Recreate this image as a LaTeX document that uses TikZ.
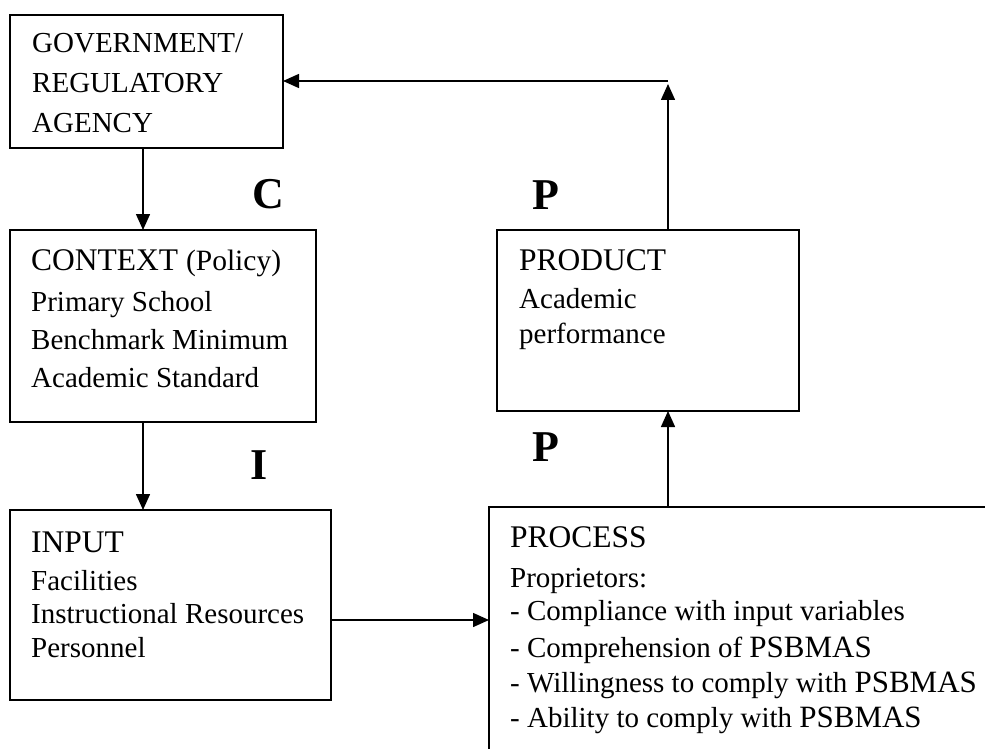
\documentclass[tikz,border=0pt]{standalone}
\usepackage{fontspec}
\setmainfont{Liberation Serif}
\usetikzlibrary{arrows.meta}
\newcommand{\bigps}{{\fontsize{31}{34}\selectfont PSBMAS}}
\begin{document}
\begin{tikzpicture}[x=1pt,y=-1pt,
 box/.style={draw,line width=1.5pt,rectangle,inner sep=0pt,outer sep=0pt,anchor=north west},
 txt/.style={anchor=base west,inner sep=0pt,font=\fontsize{29}{34}\selectfont},
 hd/.style={anchor=base west,inner sep=0pt,font=\fontsize{31.5}{34}\selectfont},
 lbl/.style={inner sep=0pt,font=\fontsize{44}{50}\selectfont\bfseries},
 arr/.style={line width=1.5pt,-{Triangle[length=16pt,width=14pt]}},
 ln/.style={line width=1.5pt}]
\useasboundingbox (0,0) rectangle (985,749);

% boxes
\node[box,minimum width=273pt,minimum height=133pt] (gov) at (10,15) {};
\node[box,minimum width=306pt,minimum height=192pt] (context) at (10,230) {};
\node[box,minimum width=321pt,minimum height=190pt] (input) at (10,510) {};
\node[box,minimum width=302pt,minimum height=181pt] (product) at (497,230) {};
\node[box,minimum width=530pt,minimum height=270pt] (process) at (489,507) {};

% texts
\node[txt] (g1) at (32,53) {GOVERNMENT/};
\node[txt] (g2) at (32,93) {REGULATORY};
\node[txt] (g3) at (32,133) {AGENCY};

\node[hd] (c1t) at (31,270) {CONTEXT {\fontsize{29.5}{34}\selectfont(Policy)}};
\node[txt] (c2t) at (31,311) {Primary School};
\node[txt] (c3t) at (31,349) {Benchmark Minimum};
\node[txt] (c4t) at (31,387) {Academic Standard};

\node[hd] (i1) at (31,552) {INPUT};
\node[txt] (i2) at (31,590) {Facilities};
\node[txt] (i3) at (31,623) {Instructional Resources};
\node[txt] (i4) at (31,657) {Personnel};

\node[hd] (p1) at (519,270) {PRODUCT};
\node[txt] (p2) at (519,308) {Academic};
\node[txt] (p3) at (519,343) {performance};

\node[hd] (r1) at (510,547) {PROCESS};
\node[txt] (r2) at (510,587) {Proprietors:};
\node[txt] (r3) at (510,620) {- Compliance with input variables};
\node[txt] (r4) at (510,657) {- Comprehension of \bigps};
\node[txt] (r5) at (510,692) {- Willingness to comply with \bigps};
\node[txt] (r6) at (510,727) {- Ability to comply with \bigps};

% letters
\node[lbl] (lc) at (268,194) {C};
\node[lbl] (lp1) at (546,195) {P};
\node[lbl] (li) at (259,465) {I};
\node[lbl] (lp2) at (546,447) {P};

% connectors
\coordinate (corner) at (668,81);
\draw[arr] (gov.south -| 143,0) -- (context.north -| 143,0);
\draw[arr] (context.south -| 143,0) -- (input.north -| 143,0);
\draw[arr] ([yshift=-15pt]input.east) -- ([yshift=-15pt]input.east -| process.west);
\draw[arr] (process.north -| corner) -- (product.south -| corner);
\draw[arr] (product.north -| corner) -- ([yshift=-3pt]corner);
\draw[arr] (corner) -- (corner -| gov.east);
\end{tikzpicture}
\end{document}
